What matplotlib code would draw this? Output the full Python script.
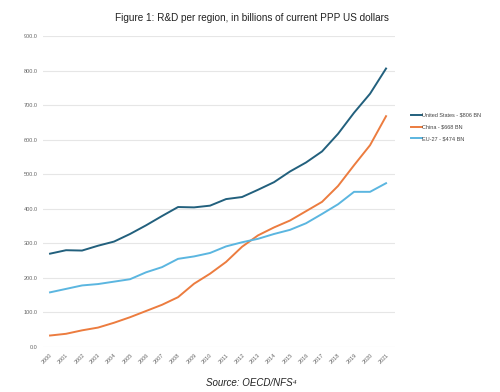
import matplotlib
matplotlib.use("Agg")
import matplotlib.pyplot as plt
from matplotlib.ticker import FormatStrFormatter

plt.rcParams['font.family'] = ['Liberation Sans', 'DejaVu Sans']

years = [str(y) for y in range(2000, 2022)]
us = [270, 280, 279, 293, 305, 327, 352, 379, 405, 404, 409, 428, 434, 455, 477, 508, 534, 566, 617, 678, 733, 806]
china = [33, 38, 48, 56, 70, 86, 104, 122, 144, 183, 212, 246, 290, 323, 346, 366, 393, 420, 466, 526, 584, 668]
eu = [158, 168, 178, 182, 189, 196, 216, 231, 255, 262, 272, 291, 303, 313, 327, 339, 358, 385, 413, 449, 449, 474]
labels = ["United States - $806 BN", "China - $668 BN", "EU-27 - $474 BN"]
colors = ["#22607d", "#ec7c3f", "#5bb6e0"]

fig = plt.figure(figsize=(5, 3.92), dpi=100)
ax = fig.add_axes([0.086, 0.115, 0.704, 0.793])
x = list(range(len(years)))
for vals, lab, c in zip([us, china, eu], labels, colors):
    ax.plot(x, vals, color=c, lw=1.4, label=lab)

ax.set_ylim(0, 900)
ax.set_xlim(-0.44, 21.56)
ax.set_yticks(range(0, 901, 100))
ax.yaxis.set_major_formatter(FormatStrFormatter('%.1f'))
ax.set_xticks(x)
ax.set_xticklabels(years, rotation=45, ha='right', rotation_mode='anchor')
ax.tick_params(axis='both', length=0, labelsize=4, labelcolor='#666666', pad=4)
ax.grid(axis='y', color='#e6e6e6', lw=0.8)
ax.set_axisbelow(True)
for s in ax.spines.values():
    s.set_visible(False)

leg = fig.legend(loc='upper left', bbox_to_anchor=(0.812, 0.725), frameon=False,
                 fontsize=4, handlelength=1.9, handletextpad=0.1, labelspacing=1.2,
                 labelcolor='#444444')

fig.text(0.504, 0.955, "Figure 1: R&D per region, in billions of current PPP US dollars",
         ha='center', va='center', fontsize=7.2, color='#222222')
fig.text(0.502, 0.023, "Source: OECD/NFS\u2074", ha='center', va='center',
         fontsize=7, style='italic', color='#222222')

fig.savefig("out.png", dpi=100)
